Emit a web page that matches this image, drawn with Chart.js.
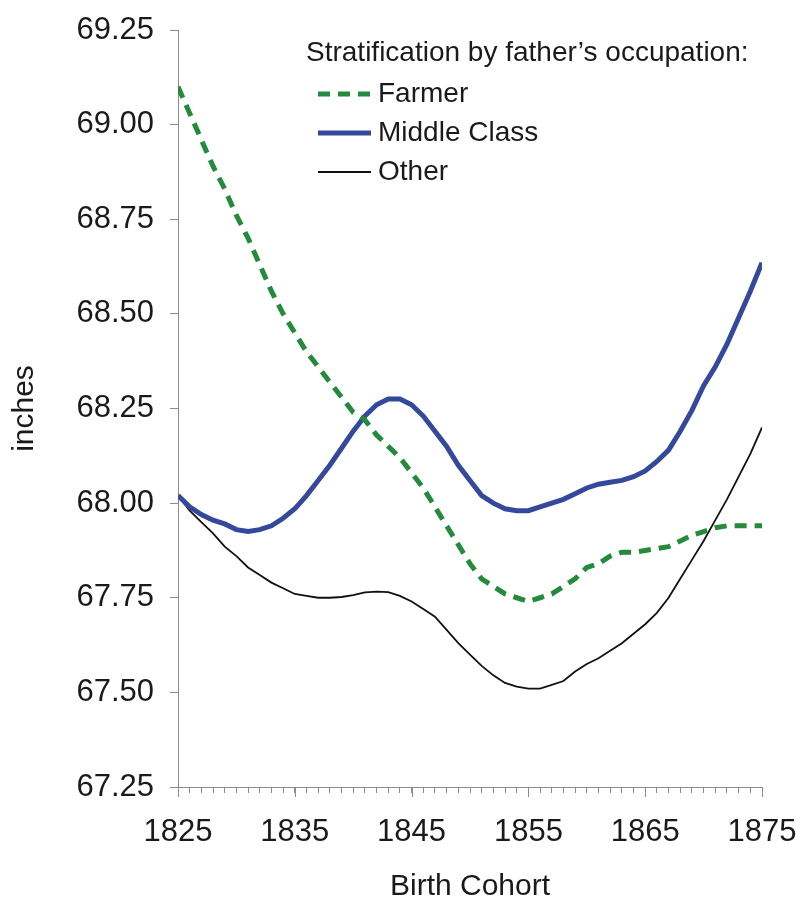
<!DOCTYPE html>
<html lang="en">
<head>
<meta charset="UTF-8">
<title>Height by birth cohort</title>
<script src="https://cdn.jsdelivr.net/npm/chart.js"></script>
<style>
  html, body { margin: 0; padding: 0; background: #fff; }
  #box { width: 803px; height: 902px; }
</style>
</head>
<body>
<div id="box"><canvas id="myChart"></canvas></div>
<script>
// data, one value per birth year 1825..1875
const years = [];
for (let y = 1825; y <= 1875; y++) years.push(y);

const farmer = [69.10, 69.03, 68.96, 68.89, 68.83, 68.76, 68.70, 68.63, 68.56, 68.50,
  68.45, 68.40, 68.36, 68.32, 68.28, 68.24, 68.22, 68.18, 68.15, 68.12,
  68.08, 68.04, 67.99, 67.94, 67.89, 67.84, 67.80, 67.78, 67.76, 67.75,
  67.74, 67.75, 67.76, 67.78, 67.80, 67.83, 67.84, 67.86, 67.87, 67.87,
  67.875, 67.88, 67.885, 67.90, 67.915, 67.925, 67.935, 67.94, 67.94, 67.94, 67.94];

const middleClass = [68.02, 67.99, 67.97, 67.955, 67.945, 67.93, 67.925, 67.93, 67.94, 67.96,
  67.985, 68.02, 68.06, 68.10, 68.145, 68.19, 68.23, 68.26, 68.275, 68.275,
  68.26, 68.23, 68.19, 68.15, 68.10, 68.06, 68.02, 68.00, 67.985, 67.98,
  67.98, 67.99, 68.00, 68.01, 68.025, 68.04, 68.05, 68.055, 68.06, 68.07,
  68.085, 68.11, 68.14, 68.19, 68.245, 68.31, 68.36, 68.42, 68.49, 68.56, 68.635];

const other = [68.02, 67.98, 67.95, 67.92, 67.885, 67.86, 67.83, 67.81, 67.79, 67.775,
  67.76, 67.755, 67.75, 67.75, 67.752, 67.757, 67.764, 67.766, 67.765, 67.755,
  67.74, 67.72, 67.70, 67.665, 67.63, 67.60, 67.57, 67.545, 67.525, 67.515,
  67.51, 67.51, 67.52, 67.53, 67.555, 67.575, 67.59, 67.61, 67.63, 67.655,
  67.68, 67.71, 67.75, 67.80, 67.85, 67.90, 67.955, 68.01, 68.07, 68.13, 68.20];

const seriesNames = ['Farmer', 'Middle Class', 'Other'];
const legendTitle = 'Stratification by father\u2019s occupation:';
const xTickLabels = [1825, 1835, 1845, 1855, 1865, 1875];

const FONT = "'Liberation Sans', Arial, sans-serif";
const AXIS = '#8c8c8c';

function pts(vals) {
  return years.map((yr, i) => ({ x: yr, y: vals[i] }));
}

// legend drawn inside the plot, top right
const innerLegend = {
  id: 'innerLegend',
  afterDatasetsDraw(chart) {
    const { ctx, chartArea } = chart;
    const x0 = chartArea.left + 128;
    ctx.save();
    ctx.fillStyle = '#1a1a1a';
    ctx.textBaseline = 'middle';
    ctx.font = '28px ' + FONT;
    ctx.fillText(legendTitle, x0, chartArea.top + 23);
    chart.data.datasets.forEach((ds, i) => {
      const y = chartArea.top + 64 + i * 39;
      ctx.beginPath();
      ctx.strokeStyle = ds.borderColor;
      ctx.lineWidth = ds.borderWidth;
      ctx.setLineDash(ds.borderDash || []);
      ctx.moveTo(x0 + 12, y);
      ctx.lineTo(x0 + 65, y);
      ctx.stroke();
      ctx.setLineDash([]);
      ctx.fillText(ds.label, x0 + 72, y);
    });
    ctx.restore();
  }
};

// the decade ticks on the x axis are a bit longer
const majorTicks = {
  id: 'majorTicks',
  afterDraw(chart) {
    const { ctx, chartArea, scales } = chart;
    ctx.save();
    ctx.strokeStyle = AXIS;
    ctx.lineWidth = 1;
    xTickLabels.forEach(v => {
      const px = Math.round(scales.x.getPixelForValue(v)) + 0.5;
      ctx.beginPath();
      ctx.moveTo(px, chartArea.bottom);
      ctx.lineTo(px, chartArea.bottom + 10);
      ctx.stroke();
    });
    ctx.restore();
  }
};

const ctx = document.getElementById('myChart');
const chart = new Chart(ctx, {
  type: 'line',
  data: {
    datasets: [{
      label: seriesNames[0],
      data: pts(farmer),
      borderColor: '#238b3b',
      borderWidth: 5,
      borderDash: [12, 8],
      pointRadius: 0,
      tension: 0
    }, {
      label: seriesNames[1],
      data: pts(middleClass),
      borderColor: '#34499b',
      borderWidth: 5,
      pointRadius: 0,
      tension: 0
    }, {
      label: seriesNames[2],
      data: pts(other),
      borderColor: '#111111',
      borderWidth: 1.8,
      pointRadius: 0,
      tension: 0
    }]
  },
  options: {
    responsive: true,
    maintainAspectRatio: false,
    animation: false,
    layout: { padding: { top: 30, right: 41, bottom: 0, left: 0 } },
    plugins: {
      legend: { display: false },
      tooltip: { enabled: false }
    },
    scales: {
      x: {
        type: 'linear',
        min: 1825,
        max: 1875,
        afterBuildTicks(scale) {
          scale.ticks = years.map(v => ({ value: v }));
        },
        afterFit(scale) {
          scale.height = 115;
          scale.paddingLeft = 0;
          scale.paddingRight = 0;
        },
        ticks: {
          autoSkip: false,
          maxRotation: 0,
          padding: 21,
          color: '#1a1a1a',
          font: { family: FONT, size: 31 },
          callback: v => (xTickLabels.includes(v) ? String(v) : '')
        },
        grid: { drawOnChartArea: false, tickLength: 6, color: AXIS },
        border: { color: AXIS },
        title: {
          display: true,
          text: 'Birth Cohort',
          color: '#1a1a1a',
          font: { family: FONT, size: 30, lineHeight: 1 },
          padding: { top: 0, bottom: 0 }
        }
      },
      y: {
        min: 67.25,
        max: 69.25,
        afterFit(scale) {
          scale.width = 178;
          scale.paddingTop = 0;
          scale.paddingBottom = 0;
        },
        ticks: {
          stepSize: 0.25,
          padding: 16,
          color: '#1a1a1a',
          font: { family: FONT, size: 31 },
          callback: v => Number(v).toFixed(2)
        },
        grid: { drawOnChartArea: false, tickLength: 8, color: AXIS },
        border: { color: AXIS },
        title: {
          display: true,
          text: 'inches',
          color: '#1a1a1a',
          font: { family: FONT, size: 30 },
          padding: { top: 7, bottom: 0 }
        }
      }
    }
  },
  plugins: [innerLegend, majorTicks]
});
</script>
</body>
</html>
